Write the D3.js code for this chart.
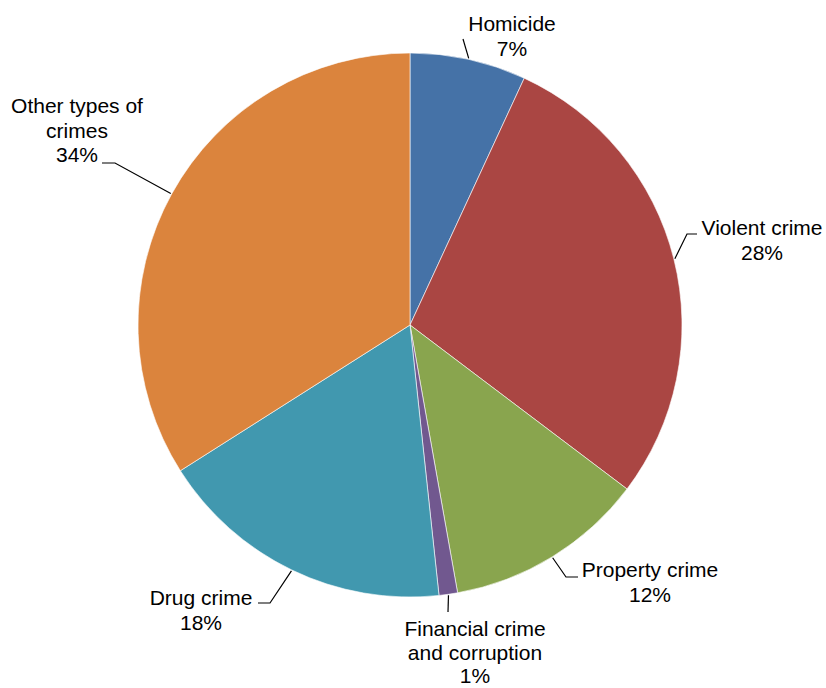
<!DOCTYPE html>
<html>
<head>
<meta charset="utf-8">
<script src="https://cdn.jsdelivr.net/npm/d3@7/dist/d3.min.js"></script>
<style>
  html, body { margin: 0; padding: 0; background: #fff; }
  svg { display: block; }
  text { font-family: "Liberation Sans", Arial, sans-serif; font-size: 21px; fill: #000; }
</style>
</head>
<body>
<svg id="chart" width="826" height="688"></svg>
<script>
// ---- data ----
const categories = ["Homicide", "Violent crime", "Property crime", "Financial crime and corruption", "Drug crime", "Other types of crimes"];
const values = [6.9, 28.4, 11.9, 1.1, 17.7, 34.0];
const percentLabels = ["7%", "28%", "12%", "1%", "18%", "34%"];
const labelLines = [["Homicide"], ["Violent crime"], ["Property crime"], ["Financial crime", "and corruption"], ["Drug crime"], ["Other types of", "crimes"]];
const colors = ["#4572A7", "#AA4643", "#89A54E", "#71588F", "#4198AF", "#DB843D"];

// ---- layout (label placement) ----
const cx = 410, cy = 325, radius = 272;
const labelLayout = [
  { x: 512, y: 31,  lh: 24.5, elbow: null,       end: [463, 39] },
  { x: 762, y: 235, lh: 24.5, elbow: [687, 234], end: [697, 234] },
  { x: 650, y: 577, lh: 24.5, elbow: [566, 577], end: [578, 577] },
  { x: 475, y: 636, lh: 23.5, elbow: null,       end: [448, 612] },
  { x: 201, y: 605, lh: 24.5, elbow: [270, 603], end: [258, 603] },
  { x: 77,  y: 113, lh: 24.5, elbow: [115, 163], end: [102, 163] }
];

const svg = d3.select("#chart");
const g = svg.append("g").attr("transform", `translate(${cx},${cy})`);

const pie = d3.pie().sort(null).value(d => d.value);
const data = categories.map((c, i) => ({ name: c, value: values[i], i }));
const arcs = pie(data);

const arc = d3.arc().innerRadius(0).outerRadius(radius);
const edge = d3.arc().innerRadius(radius + 1).outerRadius(radius + 1);

g.selectAll("path.slice")
  .data(arcs)
  .join("path")
  .attr("class", "slice")
  .attr("d", arc)
  .attr("fill", d => colors[d.data.i])
  .attr("stroke", "#ffffff")
  .attr("stroke-width", 0.6);

// leader lines
const lineGen = d3.line();
arcs.forEach(d => {
  const L = labelLayout[d.data.i];
  const p0 = edge.centroid(d).map((v, k) => v + (k === 0 ? cx : cy));
  const pts = [p0];
  if (L.elbow) pts.push(L.elbow);
  pts.push(L.end);
  svg.append("path")
    .attr("d", lineGen(pts))
    .attr("fill", "none")
    .attr("stroke", "#000")
    .attr("stroke-width", 1.2);
});

// labels
arcs.forEach(d => {
  const i = d.data.i;
  const L = labelLayout[i];
  const lines = labelLines[i].concat([percentLabels[i]]);
  const t = svg.append("text").attr("text-anchor", "middle");
  lines.forEach((s, k) => {
    t.append("tspan").attr("x", L.x).attr("y", L.y + k * L.lh).text(s);
  });
});
</script>
</body>
</html>
